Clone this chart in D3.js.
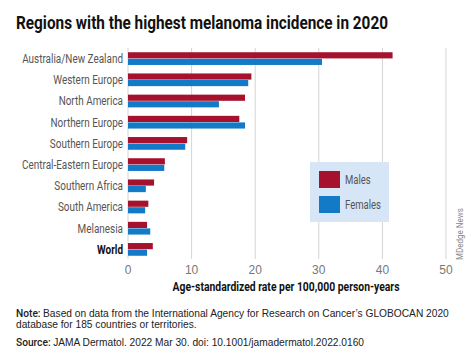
<!DOCTYPE html>
<html>
<head>
<meta charset="utf-8">
<script src="https://cdn.jsdelivr.net/npm/d3@7"></script>
<style>
  body { margin: 0; background: #fff; }
  svg { display: block; }
</style>
</head>
<body>
<div id="chart"></div>
<script>
const WIDTH = 474
const HEIGHT = 363

const regions = ["Australia/New Zealand", "Western Europe", "North America", "Northern Europe",
  "Southern Europe", "Central-Eastern Europe", "Southern Africa", "South America", "Melanesia", "World"]
const males = [41.6, 19.4, 18.4, 17.5, 9.3, 5.8, 4.1, 3.2, 3.0, 3.9]
const females = [30.5, 18.9, 14.3, 18.4, 9.0, 5.7, 2.8, 2.7, 3.5, 3.0]
const xTicks = [0, 10, 20, 30, 40, 50]
const seriesNames = ["Males", "Females"]

const COND = "Roboto, 'Noto Sans', sans-serif"
const RED = "#a6122d"
const BLUE = "#127ac6"

const rows = regions.map((r, i) => ({region: r, males: males[i], females: females[i]}))

// squeeze text horizontally so the widest one ends up `target` px wide
const condense = (sel, target) => {
  const widths = sel.nodes().map(n => n.getComputedTextLength())
  const k = target / d3.max(widths)
  sel.each(function(d, i) {
    d3.select(this)
      .attr("textLength", widths[i] * k)
      .attr("lengthAdjust", "spacingAndGlyphs")
  })
}

const svg = d3.select("#chart")
  .append("svg")
  .attr("width", WIDTH)
  .attr("height", HEIGHT)

// title
const title = svg.append("text")
  .attr("x", 16)
  .attr("y", 29)
  .attr("font-family", COND)
  .attr("font-weight", "bold")
  .attr("font-size", 18)
  .attr("fill", "#111")
  .text("Regions with the highest melanoma incidence in 2020")
condense(title, 372)

const x = d3.scaleLinear()
  .domain([0, 50])
  .range([128, 446])

const y = d3.scaleBand()
  .domain(regions)
  .range([48, 260])
  .paddingInner(0.4)
  .paddingOuter(0.2)

const sub = d3.scaleBand()
  .domain(seriesNames)
  .range([0, y.bandwidth()])
  .paddingInner(0.06)

// gridlines
svg.append("g")
  .selectAll("line")
  .data(xTicks)
  .join("line")
  .attr("x1", d => x(d))
  .attr("x2", d => x(d))
  .attr("y1", 48)
  .attr("y2", 259)
  .attr("stroke", "#d4d4d4")
  .attr("stroke-width", 1)

// tick labels
svg.append("g")
  .selectAll("text")
  .data(xTicks)
  .join("text")
  .attr("x", d => x(d))
  .attr("y", 273.5)
  .attr("text-anchor", "middle")
  .attr("font-family", "'Liberation Sans', Arial, sans-serif")
  .attr("font-size", 12)
  .attr("fill", "#777")
  .text(d => d)

// bars
const row = svg.append("g")
  .selectAll("g")
  .data(rows)
  .join("g")
  .attr("transform", d => `translate(0,${y(d.region)})`)

row.append("rect")
  .attr("x", x(0))
  .attr("y", sub("Males"))
  .attr("height", sub.bandwidth())
  .attr("width", d => x(d.males) - x(0))
  .attr("fill", RED)

row.append("rect")
  .attr("x", x(0))
  .attr("y", sub("Females"))
  .attr("height", sub.bandwidth())
  .attr("width", d => x(d.females) - x(0))
  .attr("fill", BLUE)

// category labels
const labels = row.append("text")
  .attr("x", 123)
  .attr("y", y.bandwidth() / 2)
  .attr("dy", "0.36em")
  .attr("text-anchor", "end")
  .attr("font-family", COND)
  .attr("font-size", 12)
  .attr("font-weight", d => d.region == "World" ? "bold" : "normal")
  .attr("fill", d => d.region == "World" ? "#111" : "#555")
  .text(d => d.region)
condense(labels, 101)

// axis title
const axisTitle = svg.append("text")
  .attr("x", 286)
  .attr("y", 291)
  .attr("text-anchor", "middle")
  .attr("font-family", COND)
  .attr("font-weight", "bold")
  .attr("font-size", 12)
  .attr("fill", "#111")
  .text("Age-standardized rate per 100,000 person-years")
condense(axisTitle, 227)

// legend
const legend = svg.append("g")
legend.append("rect")
  .attr("x", 310)
  .attr("y", 162)
  .attr("width", 79)
  .attr("height", 60)
  .attr("fill", "#d6e6f6")

const legendItem = legend.selectAll("g")
  .data(seriesNames)
  .join("g")
  .attr("transform", (d, i) => `translate(319,${171 + i * 25})`)

legendItem.append("rect")
  .attr("width", 21)
  .attr("height", 17)
  .attr("fill", d => d == "Males" ? RED : BLUE)

const legendText = legendItem.append("text")
  .attr("x", 26)
  .attr("y", 8.5)
  .attr("dy", "0.36em")
  .attr("font-family", COND)
  .attr("font-size", 12.5)
  .attr("fill", "#555")
  .text(d => d)
condense(legendText, 36)

// credit
const credit = svg.append("text")
  .attr("transform", "translate(463,234) rotate(-90)")
  .attr("text-anchor", "middle")
  .attr("font-family", COND)
  .attr("font-size", 8.5)
  .attr("fill", "#888")
  .text("MDedge News")
condense(credit, 52)

// notes
const notes = svg.append("g")
  .attr("font-family", "'Liberation Sans', Arial, sans-serif")
  .attr("font-size", 10.2)
  .attr("fill", "#222")

const note1 = notes.append("text").attr("x", 16).attr("y", 316.5)
note1.append("tspan").attr("font-family", COND).attr("font-weight", 500).text("Note: ")
note1.append("tspan").text("Based on data from the International Agency for Research on Cancer\u2019s GLOBOCAN 2020")

notes.append("text").attr("x", 16).attr("y", 327.5)
  .text("database for 185 countries or territories.")

const note2 = notes.append("text").attr("x", 16).attr("y", 345.5)
note2.append("tspan").attr("font-family", COND).attr("font-weight", 500).text("Source: ")
note2.append("tspan").text("JAMA Dermatol. 2022 Mar 30. doi: 10.1001/jamadermatol.2022.0160")
</script>
</body>
</html>
